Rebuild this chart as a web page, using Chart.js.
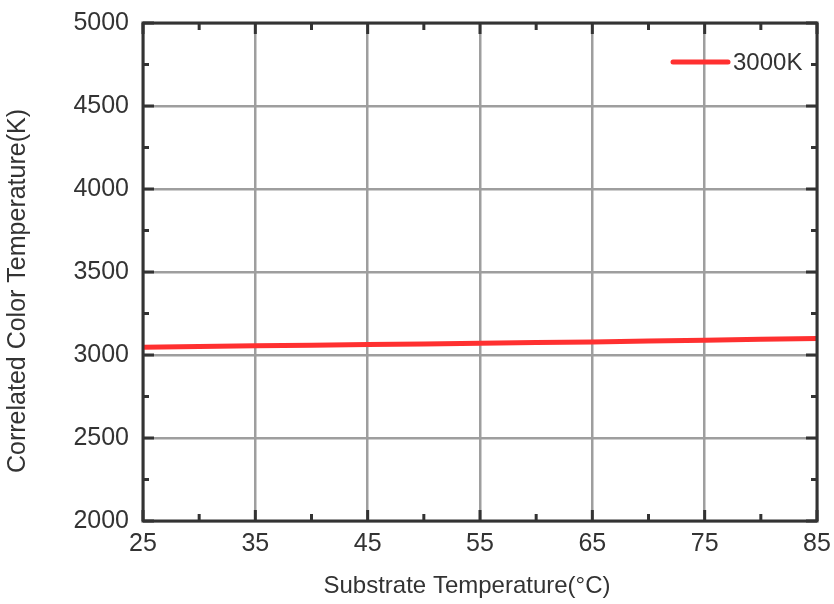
<!DOCTYPE html>
<html>
<head>
<meta charset="utf-8">
<script src="https://cdn.jsdelivr.net/npm/chart.js@4.4.0/dist/chart.umd.min.js"></script>
<style>
html,body{margin:0;padding:0;background:#fff;}
#wrap{width:834px;height:604px;position:relative;}
</style>
</head>
<body>
<div id="wrap"><canvas id="c" width="834" height="604"></canvas></div>
<script>
const substrateTemps = [25, 35, 45, 55, 65, 75, 85];
const cct3000K = [3046, 3055, 3063, 3071, 3079, 3089, 3100];
const seriesLabel = '3000K';
const xTicks = [25, 35, 45, 55, 65, 75, 85];
const xMinorTicks = [30, 40, 50, 60, 70, 80];
const yTicks = [2000, 2500, 3000, 3500, 4000, 4500, 5000];
const yMinorTicks = [2250, 2750, 3250, 3750, 4250, 4750];
const xTitle = 'Substrate Temperature(°C)';
const yTitle = 'Correlated Color Temperature(K)';

const FONT = "'Liberation Sans', Arial, sans-serif";
const AXIS = '#333333';
const GRID = '#9e9e9e';
const RED = '#ff3030';

const framePlugin = {
  id: 'frame',
  afterDatasetsDraw(chart) {
    const {ctx, chartArea: a, scales: {x, y}} = chart;
    ctx.save();
    ctx.strokeStyle = AXIS;
    ctx.lineCap = 'butt';
    ctx.lineWidth = 3;
    const tick = (x1, y1, x2, y2) => { ctx.beginPath(); ctx.moveTo(x1, y1); ctx.lineTo(x2, y2); ctx.stroke(); };
    xTicks.forEach(v => { const px = x.getPixelForValue(v); tick(px, a.bottom, px, a.bottom - 11); tick(px, a.top, px, a.top + 11); });
    xMinorTicks.forEach(v => { const px = x.getPixelForValue(v); tick(px, a.bottom, px, a.bottom - 7); tick(px, a.top, px, a.top + 7); });
    yTicks.forEach(v => { const py = y.getPixelForValue(v); tick(a.left, py, a.left + 11, py); tick(a.right, py, a.right - 11, py); });
    yMinorTicks.forEach(v => { const py = y.getPixelForValue(v); tick(a.left, py, a.left + 6, py); tick(a.right, py, a.right - 6, py); });
    ctx.strokeRect(a.left, a.top, a.right - a.left, a.bottom - a.top);
    // axis titles
    ctx.fillStyle = '#333';
    ctx.textAlign = 'center';
    ctx.textBaseline = 'middle';
    ctx.font = '24px ' + FONT;
    ctx.fillText(xTitle, 467, 586);
    ctx.save();
    ctx.translate(18, 291);
    ctx.rotate(-Math.PI / 2);
    ctx.font = '25px ' + FONT;
    ctx.fillText(yTitle, 0, 0);
    ctx.restore();
    // legend
    const ds = chart.data.datasets[0];
    ctx.strokeStyle = ds.borderColor;
    ctx.lineWidth = 5;
    ctx.lineCap = 'round';
    tick(673, 62, 728, 62);
    ctx.font = '24px ' + FONT;
    ctx.textAlign = 'left';
    ctx.fillText(ds.label, 733, 63);
    ctx.restore();
  }
};

new Chart(document.getElementById('c'), {
  type: 'line',
  data: {
    labels: substrateTemps,
    datasets: [{
      label: seriesLabel,
      data: substrateTemps.map((t, i) => ({x: t, y: cct3000K[i]})),
      borderColor: RED,
      backgroundColor: RED,
      borderWidth: 5,
      pointRadius: 0,
      tension: 0.3,
      clip: false
    }]
  },
  options: {
    responsive: false,
    animation: false,
    devicePixelRatio: 1,
    layout: {padding: {left: 0, right: 17, top: 23, bottom: 0}},
    plugins: {legend: {display: false}, tooltip: {enabled: false}},
    scales: {
      x: {
        type: 'linear', min: 25, max: 85,
        afterBuildTicks: s => { s.ticks = xTicks.map(v => ({value: v})); },
        afterFit: s => { s.height = 83; s.paddingLeft = 0; s.paddingRight = 0; },
        grid: {color: GRID, lineWidth: 2.5, drawTicks: false},
        border: {display: false},
        ticks: {font: {size: 25, family: FONT}, color: '#333', padding: 8, maxRotation: 0,
                callback: v => String(v)},
        title: {display: false}
      },
      y: {
        type: 'linear', min: 2000, max: 5000,
        afterBuildTicks: s => { s.ticks = yTicks.map(v => ({value: v})); },
        afterFit: s => { s.width = 143; s.paddingTop = 0; s.paddingBottom = 0; },
        grid: {color: GRID, lineWidth: 2.5, drawTicks: false},
        border: {display: false},
        ticks: {font: {size: 25, family: FONT}, color: '#333', padding: 14,
                callback: v => String(v)},
        title: {display: false}
      }
    }
  },
  plugins: [framePlugin]
});
</script>
</body>
</html>
